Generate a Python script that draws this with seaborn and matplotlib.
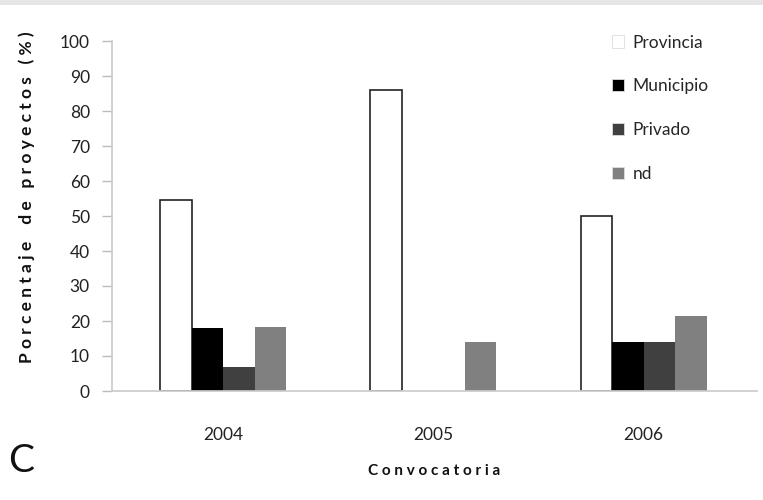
import matplotlib
matplotlib.use("Agg")
import matplotlib.pyplot as plt
import seaborn as sns
import pandas as pd
from matplotlib.patches import Rectangle

years = ["2004", "2005", "2006"]
series = ["Provincia", "Municipio", "Privado", "nd"]
provincia = [54.5, 86.0, 50.0]
municipio = [18.0, 0.0, 14.0]
privado = [7.0, 0.0, 14.0]
nd = [18.2, 14.0, 21.5]
colors = ["#ffffff", "#000000", "#404040", "#808080"]
yticks = [0, 10, 20, 30, 40, 50, 60, 70, 80, 90, 100]

values = [provincia, municipio, privado, nd]
rows = []
for s, vals in zip(series, values):
    for y, v in zip(years, vals):
        rows.append({"Convocatoria": y, "Serie": s, "Valor": v})
df = pd.DataFrame(rows)

sns.set_theme(style="white")
plt.rcParams['font.family'] = ['Lato', 'DejaVu Sans']

fig = plt.figure(figsize=(7.63, 5.0), dpi=100)
ax = fig.add_axes([112/763, 1-391/500, 645/763, 350/500])

sns.barplot(data=df, x="Convocatoria", y="Valor", hue="Serie", order=years,
            hue_order=series, palette=colors, width=0.6, saturation=1,
            ax=ax, legend=True)

for bar in ax.patches[:3]:
    bar.set_edgecolor("#222222")
    bar.set_linewidth(1.2)
for bar in ax.patches[3:]:
    bar.set_edgecolor("none")

ax.set_xlim(-0.53, 2.54)
ax.set_ylim(0, 100)
ax.set_yticks(yticks)
ax.set_yticklabels([str(t) for t in yticks], fontsize=12.5, color="#222222")
ax.tick_params(axis="y", direction="out", length=7, width=1, color="#bbbbbb", pad=9, left=True)
ax.tick_params(axis="x", length=0, pad=26, labelsize=12.5, labelcolor="#222222")
for side in ["top", "right"]:
    ax.spines[side].set_visible(False)
ax.spines["left"].set_color("#cccccc")
ax.spines["bottom"].set_color("#cccccc")

ax.set_xlabel("C o n v o c a t o r i a", fontsize=11, fontweight="bold", labelpad=15, color="#111111")
ax.set_ylabel("P o r c e n t a j e    d e   p r o y e c t o s   ( % )", fontsize=12.5,
              fontweight="bold", color="#111111")
ax.yaxis.set_label_coords((35-112)/645, (391-197)/350)

leg = ax.legend(loc="upper left", bbox_to_anchor=(596/763, 1-19/500), bbox_transform=fig.transFigure,
                frameon=False, fontsize=12.5, labelspacing=1.6, handlelength=0.7, handleheight=0.7,
                handletextpad=0.5)
for h in leg.legend_handles:
    h.set_edgecolor("#dddddd")
    h.set_linewidth(0.6)

fig.text(8/763, 1-461/500, "C", fontsize=28, fontweight="normal", family=["Lato", "DejaVu Sans"],
         va="center", ha="left", color="#111111")
fig.patches.append(Rectangle((0, 1-5/500), 1, 5/500, transform=fig.transFigure,
                             facecolor="#e6e6e6", edgecolor="none"))

fig.savefig("out.png", dpi=100)
